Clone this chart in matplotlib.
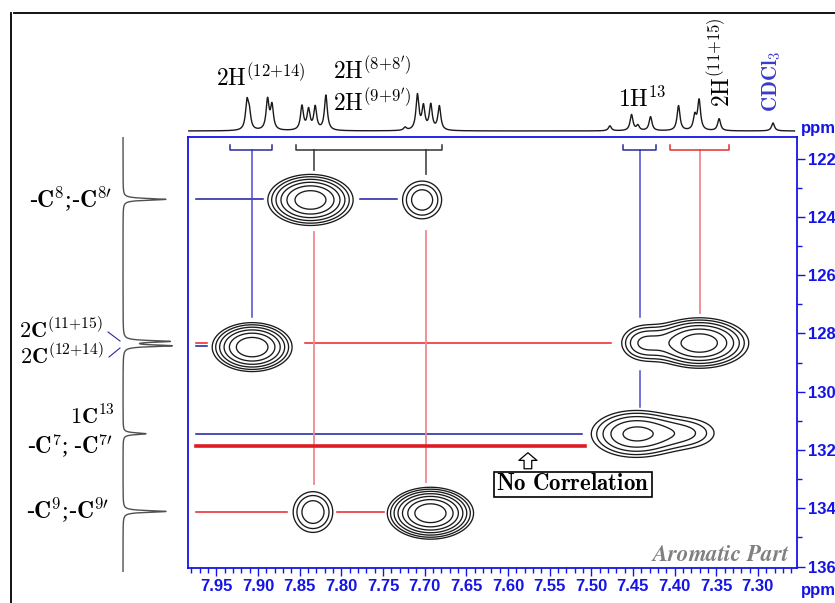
import numpy as np
import matplotlib
matplotlib.use("Agg")
import matplotlib.pyplot as plt
from matplotlib.lines import Line2D
from matplotlib.ticker import MultipleLocator, FormatStrFormatter

plt.rcParams['mathtext.fontset'] = 'cm'
plt.rcParams['font.family'] = ['Liberation Serif', 'DejaVu Serif']

# ---- data ----
# 1H spectrum (top): peak positions (ppm) and heights
h_peak_ppm = [7.9132, 7.9104, 7.8885, 7.8832,
              7.8472, 7.8393, 7.8313, 7.8185,
              7.7234, 7.7086, 7.7014, 7.6926, 7.6823,
              7.4776, 7.4516, 7.4440, 7.4288, 7.3952, 7.3757, 7.3705, 7.3465,
              7.2818]
h_peak_int = [27, 16, 30, 24,
              24, 20, 23, 35,
              3, 35, 23, 25, 24,
              5, 16, 5, 14, 25, 14, 30, 12,
              8]

# 13C spectrum (left): peak positions (ppm) and heights
c_peak_ppm = [123.40, 128.28, 128.43, 131.45, 134.12]
c_peak_int = [43, 45, 47, 23, 43]

# HSQC cross peaks: 1H ppm, 13C ppm, amplitude, width H, width C
xp_h = [7.837, 7.703, 7.907, 7.370, 7.438, 7.447, 7.382, 7.834, 7.693]
xp_c = [123.42, 123.42, 128.47, 128.33, 128.33, 131.45, 131.42, 134.13, 134.17]
xp_amp = [0.68, 0.253, 0.72, 0.68, 0.25, 0.42, 0.17, 0.26, 1.0]
xp_wh = [0.026, 0.017, 0.024, 0.030, 0.018, 0.031, 0.027, 0.017, 0.024]
xp_wc = [0.445, 0.47, 0.42, 0.44, 0.40, 0.47, 0.40, 0.50, 0.413]
levels = [0.098, 0.137, 0.192, 0.269, 0.377, 0.527, 0.738]

# correlation lines: (H from, H to, C from, C to)
navy_h_lines = [(7.974, 7.894, 123.40, 123.40), (7.777, 7.733, 123.40, 123.40),
                (7.974, 7.961, 128.43, 128.43), (7.974, 7.511, 131.45, 131.45)]
blue_v_lines = [(7.907, 7.907, 121.71, 127.43), (7.441, 7.441, 121.71, 127.43),
                (7.441, 7.441, 129.28, 130.52)]
red_h_lines = [(7.974, 7.961, 128.32, 128.32), (7.843, 7.476, 128.32, 128.32),
               (7.974, 7.865, 134.12, 134.12), (7.805, 7.749, 134.12, 134.12)]
pink_v_lines = [(7.833, 7.833, 124.51, 133.17), (7.698, 7.698, 124.49, 133.09),
                (7.370, 7.370, 121.71, 127.29)]
black_v_lines = [(7.833, 7.833, 121.71, 122.39), (7.698, 7.698, 121.71, 122.53)]
thick_red = (7.974, 7.507, 131.87, 131.87)

# brackets over the multiplets: (H left, H right, colour)
brackets = [(7.933, 7.883, '#2a2aa0'), (7.854, 7.679, '#333333'),
            (7.462, 7.422, '#2a2aa0'), (7.405, 7.335, '#e03030')]

xt = np.round(np.arange(7.30, 7.951, 0.05), 2)
yt = np.arange(122, 137, 2)

# ---- figure ----
W, H = 835, 603
fig = plt.figure(figsize=(W / 100, H / 100), dpi=100)


def rect(x0, y0, x1, y1):
    return [x0 / W, 1 - y1 / H, (x1 - x0) / W, (y1 - y0) / H]


blue = '#1414e6'
ax = fig.add_axes(rect(188, 137, 797, 568))
ax.set_xlim(7.984, 7.253)
ax.set_ylim(136.05, 121.26)

hh = np.linspace(7.25, 7.99, 500)
cc = np.linspace(121.2, 136.2, 500)
HH, CC = np.meshgrid(hh, cc)
Z = np.zeros_like(HH)
for h0, c0, a, wh, wc in zip(xp_h, xp_c, xp_amp, xp_wh, xp_wc):
    Z += a * np.exp(-0.5 * (((HH - h0) / wh) ** 2 + ((CC - c0) / wc) ** 2))
ax.contour(HH, CC, Z, levels=levels, colors='#1a1a1a', linewidths=0.95)

for h1, h2, c1, c2 in navy_h_lines:
    ax.plot([h1, h2], [c1, c2], color='#1c1c9c', lw=1.1)
for h1, h2, c1, c2 in blue_v_lines:
    ax.plot([h1, h2], [c1, c2], color='#4a4ad0', lw=1.1)
for h1, h2, c1, c2 in red_h_lines:
    ax.plot([h1, h2], [c1, c2], color='#e8202a', lw=1.1)
for h1, h2, c1, c2 in pink_v_lines:
    ax.plot([h1, h2], [c1, c2], color='#f08890', lw=1.3)
for h1, h2, c1, c2 in black_v_lines:
    ax.plot([h1, h2], [c1, c2], color='#555555', lw=1.3)
ax.plot(thick_red[:2], thick_red[2:], color='#e01a22', lw=2.6)

for hl, hr, col in brackets:
    ax.plot([hl, hl, hr, hr], [121.54, 121.71, 121.71, 121.54], color=col, lw=1.1)

ax.annotate('', xy=(7.576, 132.0), xytext=(7.576, 132.74),
            arrowprops=dict(arrowstyle='simple,head_width=1.3,head_length=0.55,tail_width=0.55',
                            fc='white', ec='black', lw=0.9))
ax.text(7.522, 133.19, r'$\mathbf{No\ Correlation}$', fontsize=16.5, ha='center', va='center',
        bbox=dict(boxstyle='square,pad=0.1', fc='white', ec='black', lw=1.2))
ax.text(7.262, 135.82, r'$\mathbfit{Aromatic\ Part}$', fontsize=16.5, color='#808080',
        ha='right', va='baseline')

for sp in ax.spines.values():
    sp.set_color(blue)
    sp.set_linewidth(1.3)
ax.yaxis.tick_right()
ax.set_xticks(xt)
ax.set_yticks(yt)
ax.xaxis.set_minor_locator(MultipleLocator(0.01))
ax.yaxis.set_minor_locator(MultipleLocator(1))
ax.xaxis.set_major_formatter(FormatStrFormatter('%.2f'))
ax.tick_params(which='both', direction='out', color=blue, width=1.0, labelcolor=blue)
ax.tick_params(which='major', length=6, pad=2)
ax.tick_params(which='minor', length=3.5)
tick_font = dict(family=['Liberation Sans Narrow', 'Liberation Sans'], weight='bold', size=12)
for lab in ax.get_xticklabels() + ax.get_yticklabels():
    lab.set_fontproperties(matplotlib.font_manager.FontProperties(**tick_font))

# top 1H spectrum
axt = fig.add_axes(rect(188, 40, 797, 137))
axt.set_xlim(7.984, 7.253)
axt.set_ylim(-6, 91)
xs = np.linspace(7.983, 7.256, 4000)
ys = np.zeros_like(xs)
for p, a in zip(h_peak_ppm, h_peak_int):
    ys += a / (1 + ((xs - p) / 0.0021) ** 2)
axt.plot(xs, ys, color='#1a1a1a', lw=1.0)
axt.axis('off')

# left 13C spectrum
axl = fig.add_axes(rect(100, 137, 188, 572))
axl.set_xlim(-23, 65)
axl.set_ylim(136.2, 121.26)
cy = np.linspace(121.27, 136.2, 4000)
cx = np.zeros_like(cy)
for p, a in zip(c_peak_ppm, c_peak_int):
    cx += a / (1 + ((cy - p) / 0.035) ** 2)
axl.plot(cx, cy, color='#505050', lw=1.0)
axl.axis('off')

# annotations
def ftext(x, y, s, **kw):
    fig.text(x / W, 1 - y / H, s, ha='center', va='center', **kw)


ftext(261, 78, r'$2\mathrm{H}^{(12{+}14)}$', fontsize=17)
ftext(372, 71, r'$2\mathrm{H}^{(8{+}8^{\prime})}$', fontsize=17)
ftext(372, 103, r'$2\mathrm{H}^{(9{+}9^{\prime})}$', fontsize=17)
ftext(642, 99, r'$1\mathrm{H}^{13}$', fontsize=17)
ftext(722, 62, r'$2\mathrm{H}^{(11{+}15)}$', fontsize=17, rotation=90)
ftext(772, 81, r'$\mathbf{CDCl_3}$', fontsize=15, rotation=90, color='#3a3acc')

ftext(70, 199, r'-$\mathbf{C}^{8}$;-$\mathbf{C}^{8\prime}$', fontsize=17)
ftext(61, 331, r'$\mathbf{2C}^{(11{+}15)}$', fontsize=16)
ftext(62, 357, r'$\mathbf{2C}^{(12{+}14)}$', fontsize=16)
ftext(92, 417, r'$\mathbf{1C}^{13}$', fontsize=16)
ftext(70, 446, r'-$\mathbf{C}^{7}$; -$\mathbf{C}^{7\prime}$', fontsize=16.5)
ftext(67, 510, r'-$\mathbf{C}^{9}$;-$\mathbf{C}^{9\prime}$', fontsize=17)

fig.add_artist(Line2D([108 / W, 120 / W], [1 - 332 / H, 1 - 341 / H], color='#2a2aa0', lw=0.8))
fig.add_artist(Line2D([109 / W, 120 / W], [1 - 357 / H, 1 - 348 / H], color='#2a2aa0', lw=0.8))

ppm_font = dict(family=['Liberation Sans Narrow', 'Liberation Sans'], weight='bold', size=12, color=blue)
ftext(818, 128, 'ppm', **ppm_font)
ftext(818, 591, 'ppm', **ppm_font)

# outer frame
fig.add_artist(Line2D([14 / W, 1], [1 - 13 / H, 1 - 13 / H], color='k', lw=1.3))
fig.add_artist(Line2D([11 / W, 11 / W], [1 - 13 / H, 0], color='k', lw=1.3))

fig.savefig('out.png', dpi=100)
